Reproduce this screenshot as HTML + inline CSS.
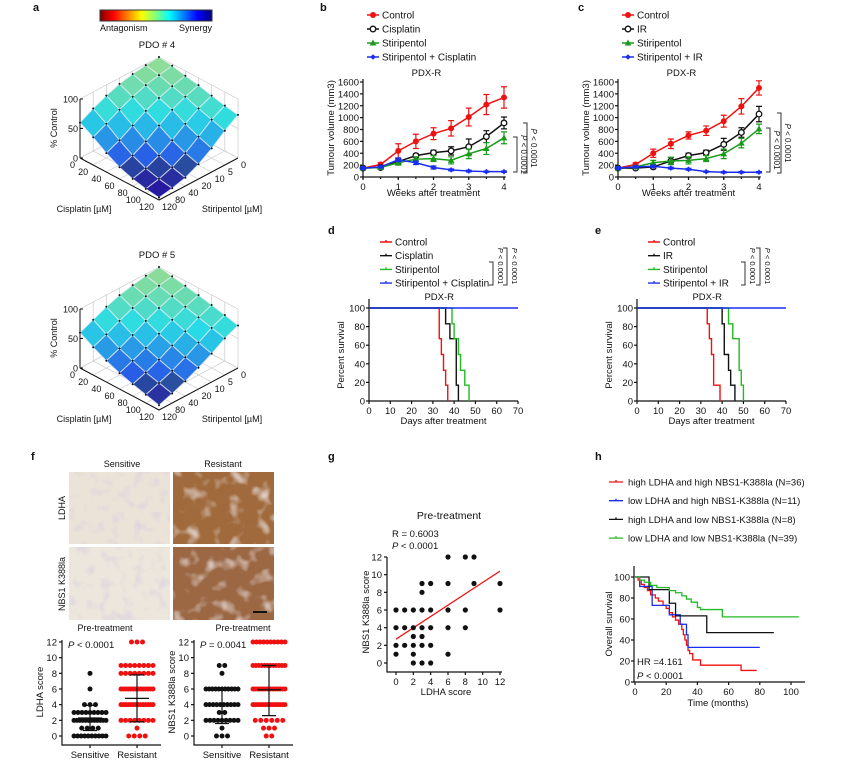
<!DOCTYPE html>
<html><head><meta charset="utf-8">
<style>
html,body{margin:0;padding:0;background:#fff;}
svg{display:block;font-family:"Liberation Sans",Arial,sans-serif;}
text{fill:#111;}
</style></head>
<body>
<svg id="fig" width="865" height="763" viewBox="0 0 865 763" xmlns="http://www.w3.org/2000/svg">
<defs>
<linearGradient id="cbar" x1="0" x2="1" y1="0" y2="0">
<stop offset="0" stop-color="#800000"/><stop offset="0.12" stop-color="#ff0000"/><stop offset="0.37" stop-color="#ffff00"/>
<stop offset="0.5" stop-color="#80ff80"/><stop offset="0.62" stop-color="#00ffff"/><stop offset="0.87" stop-color="#0000ff"/><stop offset="1" stop-color="#000080"/>
</linearGradient>
<filter id="noiseS" x="0" y="0" width="100%" height="100%"><feTurbulence type="fractalNoise" baseFrequency="0.09" numOctaves="2" seed="3"/><feColorMatrix type="matrix" values="0 0 0 0 0.6  0 0 0 0 0.55  0 0 0 0 0.75  1.2 0 0 0 -0.6"/></filter>
<filter id="noiseR" x="0" y="0" width="100%" height="100%"><feTurbulence type="fractalNoise" baseFrequency="0.07" numOctaves="2" seed="7"/><feColorMatrix type="matrix" values="0 0 0 0 0.9  0 0 0 0 0.88  0 0 0 0 0.92  -2.2 0 0 0 1.05"/></filter>
</defs>

<text x="33" y="11" font-size="11" font-weight="bold">a</text>
<text x="320" y="11" font-size="11" font-weight="bold">b</text>
<text x="578" y="11" font-size="11" font-weight="bold">c</text>
<text x="328" y="234" font-size="11" font-weight="bold">d</text>
<text x="595" y="234" font-size="11" font-weight="bold">e</text>
<text x="31" y="460" font-size="11" font-weight="bold">f</text>
<text x="328" y="460" font-size="11" font-weight="bold">g</text>
<text x="595" y="460" font-size="11" font-weight="bold">h</text>

<rect x="100" y="10" width="112" height="11" fill="url(#cbar)" stroke="#333" stroke-width="1"/>
<text x="100" y="31" font-size="9">Antagonism</text>
<text x="212" y="31" font-size="9" text-anchor="end">Synergy</text>

<g>
<rect x="69" y="472" width="101" height="72" fill="#ece3d8"/>
<rect x="69" y="472" width="101" height="72" filter="url(#noiseS)"/>
<rect x="173" y="472" width="101" height="72" fill="#a06a3c"/>
<rect x="173" y="472" width="101" height="72" filter="url(#noiseR)"/>
<rect x="69" y="547" width="101" height="73" fill="#ede6dc"/>
<rect x="69" y="547" width="101" height="73" filter="url(#noiseS)"/>
<rect x="173" y="547" width="101" height="73" fill="#9c6844"/>
<rect x="173" y="547" width="101" height="73" filter="url(#noiseR)"/>
<line x1="253" y1="612" x2="267" y2="612" stroke="#111" stroke-width="2"/>
</g>
<text x="122" y="467" font-size="9" text-anchor="middle">Sensitive</text>
<text x="223" y="467" font-size="9" text-anchor="middle">Resistant</text>
<text transform="translate(65,508) rotate(-90)" font-size="9" text-anchor="middle">LDHA</text>
<text transform="translate(65,584) rotate(-90)" font-size="9" text-anchor="middle">NBS1 K388la</text>
<text x="105" y="631" font-size="9" text-anchor="middle">Pre-treatment</text>
<text x="243" y="631" font-size="9" text-anchor="middle">Pre-treatment</text>
</svg>

<script>
const NS='http://www.w3.org/2000/svg';
const svg=document.getElementById('fig');
function mk(tag,attrs,parent){const e=document.createElementNS(NS,tag);for(const k in attrs)e.setAttribute(k,attrs[k]);(parent||svg).appendChild(e);return e;}
function nm(el,n){


return el;}
function txt(x,y,s,size,anchor,parent,extra){const t=mk('text',Object.assign({x:x,y:y,'font-size':size,'text-anchor':anchor||'start'},extra||{}),parent);t.textContent=s;return t;}
function rtxt(x,y,s,size,rot,parent){const t=mk('text',{transform:'translate('+x+','+y+') rotate('+rot+')','font-size':size,'text-anchor':'middle'},parent);t.textContent=s;return t;}

/* ================= PANEL A DATA ================= */
const cisTicks=['0','20','40','60','80','100','120'];
const stiTicks=['0','5','10','20','40','80','120'];
const zTicks=[0,50,100];
const pdo4=[
[100,98,95,90,82,72,60],
[97,93,88,80,70,58,47],
[92,86,78,68,55,42,32],
[88,80,70,55,40,28,20],
[82,72,58,42,28,18,12],
[77,65,48,32,20,12,7],
[73,58,40,25,14,8,4]];
const pdo5=[
[100,97,93,88,80,70,60],
[96,92,86,78,68,57,47],
[92,86,78,68,56,45,36],
[88,80,70,58,46,36,27],
[83,74,62,50,38,28,20],
[78,68,55,42,31,22,14],
[72,62,48,36,25,16,8]];

function jet(t){const r=Math.min(1,Math.max(0,1.5-Math.abs(4*t-3))),g=Math.min(1,Math.max(0,1.5-Math.abs(4*t-2))),b=Math.min(1,Math.max(0,1.5-Math.abs(4*t-1)));
  const mix=v=>Math.round(v*215+30);return 'rgb('+Math.round(r*190+40)+','+Math.round(g*200+20)+','+Math.round(b*150+(t<0.2?10:80))+')';}

function surface(vals,dy,title,key){
  const g=nm(mk('g',{}),'surface-plot-'+key);
  const P=(u,v,z)=>[159+79*(u-v),116+dy+42*(u+v)-z*0.59];
  nm(txt(157,48+dy,title,9.5,'middle',g),'surface-title-'+key);
  const gg=nm(mk('g',{stroke:'#c8c8c8','stroke-width':0.7,fill:'none'},g),'surface-gridlines-'+key);
  for(let k=0;k<=6;k++){
    let a=P(0,k/6,0),b=P(0,k/6,100);mk('line',{x1:a[0],y1:a[1],x2:b[0],y2:b[1]},gg);
    a=P(k/6,0,0);b=P(k/6,0,100);mk('line',{x1:a[0],y1:a[1],x2:b[0],y2:b[1]},gg);
    a=P(0,k/6,0);b=P(1,k/6,0);mk('line',{x1:a[0],y1:a[1],x2:b[0],y2:b[1]},gg);
    a=P(k/6,0,0);b=P(k/6,1,0);mk('line',{x1:a[0],y1:a[1],x2:b[0],y2:b[1]},gg);
  }
  zTicks.forEach(z=>{let a=P(0,1,z),b=P(0,0,z),c=P(1,0,z);mk('polyline',{points:a+' '+b+' '+c},gg);});
  const ax=nm(mk('g',{stroke:'#111','stroke-width':1,fill:'none'},g),'surface-axes-'+key);
  let L=P(0,1,0),F=P(1,1,0),R=P(1,0,0);
  mk('polyline',{points:L+' '+F+' '+R},ax);
  let zt=P(0,1,100);mk('line',{x1:L[0],y1:L[1],x2:zt[0],y2:zt[1]},ax);
  zTicks.forEach(z=>{const p=P(0,1,z);mk('line',{x1:p[0],y1:p[1],x2:p[0]+3,y2:p[1]},ax);nm(txt(p[0]-2,p[1]+3.5,String(z),9,'end',g),'z-tick-label');});
  cisTicks.forEach((s,i)=>{const p=P(i/6,1,0);nm(txt(p[0]-5,p[1]+10,s,9,'end',g),'cisplatin-tick-label');});
  stiTicks.forEach((s,j)=>{const p=P(1,j/6,0);nm(txt(p[0]+3,p[1]+10,s,9,'start',g),'stiripentol-tick-label');});
  nm(txt(84,212+dy,'Cisplatin [µM]',9,'middle',g),'x-axis-title-cisplatin');
  nm(txt(232,212+dy,'Stiripentol [µM]',9,'middle',g),'y-axis-title-stiripentol');
  nm(rtxt(57,128+dy,'% Control',9,-90,g),'z-axis-title');
  const quads=[];
  for(let i=0;i<6;i++)for(let j=0;j<6;j++)quads.push([i,j]);
  quads.sort((a,b)=>(a[0]+a[1])-(b[0]+b[1]));
  const sg=nm(mk('g',{},g),'surface-mesh-'+key);
  quads.forEach(([i,j])=>{
    const c=[[i,j],[i+1,j],[i+1,j+1],[i,j+1]];
    const pts=c.map(([a,b])=>P(a/6,b/6,vals[a][b]).join(',')).join(' ');
    const z=(vals[i][j]+vals[i+1][j]+vals[i+1][j+1]+vals[i][j+1])/4;
    const q=mk('polygon',{points:pts,fill:jet(0.1+z/100*0.42),stroke:'#e8eef8','stroke-width':1,'stroke-opacity':0.75},sg);
    nm(q,'surface-cell');
  });
  for(let i=0;i<=6;i++)for(let j=0;j<=6;j++){const p=P(i/6,j/6,vals[i][j]);nm(mk('circle',{cx:p[0],cy:p[1],r:1,fill:'#111'},sg),'surface-point');}
}
surface(pdo4,0,'PDO # 4','pdo4');
surface(pdo5,210,'PDO # 5','pdo5');

/* ================= PANELS B,C DATA ================= */
const weeks=[0,0.5,1,1.5,2,2.5,3,3.5,4];
const volTicks=[0,200,400,600,800,1000,1200,1400,1600];
const weekTicks=[0,1,2,3,4];
const bControl=[150,210,440,600,730,820,1010,1220,1340];
const bControlErr=[30,30,120,120,100,130,150,170,180];
const bCis=[150,160,260,360,410,440,510,680,910];
const bCisErr=[20,20,40,30,40,70,130,100,100];
const bSti=[150,160,240,300,310,280,390,480,660];
const bStiErr=[20,20,40,40,50,60,80,100,100];
const bCombo=[150,170,290,240,160,120,100,90,90];
const bComboErr=[20,15,30,30,25,15,15,10,10];
const cControl=[150,210,400,560,700,780,940,1190,1500];
const cControlErr=[20,30,70,80,60,80,100,130,120];
const cIR=[150,150,170,270,360,410,550,750,1060];
const cIRErr=[20,20,30,60,40,40,100,80,130];
const cSti=[150,170,240,270,280,310,390,570,810];
const cStiErr=[20,20,40,60,60,50,80,80,80];
const cCombo=[150,170,180,150,130,90,80,80,80];
const cComboErr=[20,15,20,15,15,10,10,10,10];

function marker(type,x,y,col,parent){
  let e;
  if(type==='fill')e=mk('circle',{cx:x,cy:y,r:3,fill:col},parent);
  else if(type==='open')e=mk('circle',{cx:x,cy:y,r:2.8,fill:'#fff',stroke:col,'stroke-width':1.3},parent);
  else if(type==='tri')e=mk('polygon',{points:(x)+','+(y-3.5)+' '+(x+3.3)+','+(y+2.5)+' '+(x-3.3)+','+(y+2.5),fill:col},parent);
  else e=mk('polygon',{points:(x)+','+(y-2.8)+' '+(x+2.8)+','+y+' '+x+','+(y+2.8)+' '+(x-2.8)+','+y,fill:col},parent);
  return e;
}
function growth(key,ox,series,labels,brackets){
  const g=nm(mk('g',{}),'growth-chart-'+key);
  const X=w=>ox+w*141/4, Y=v=>177-v*95/1600;
  const ax=nm(mk('g',{stroke:'#111','stroke-width':1.2,fill:'none'},g),'axes-'+key);
  mk('polyline',{points:X(0)+','+Y(1650)+' '+X(0)+','+Y(0)+' '+X(4.05)+','+Y(0)},ax);
  volTicks.forEach(v=>{mk('line',{x1:X(0)-3,y1:Y(v),x2:X(0),y2:Y(v)},ax);nm(txt(X(0)-4,Y(v)+3.5,String(v),9.5,'end',g),'y-tick-label');});
  weekTicks.forEach(w=>{mk('line',{x1:X(w),y1:Y(0),x2:X(w),y2:Y(0)+3},ax);nm(txt(X(w),Y(0)+13,String(w),9.5,'middle',g),'x-tick-label');});
  weeks.forEach(w=>{mk('line',{x1:X(w),y1:Y(0),x2:X(w),y2:Y(0)+2},ax);});
  nm(txt(X(2),196,'Weeks after treatment',9.5,'middle',g),'x-axis-title');
  nm(rtxt(ox-29,128,'Tumour volume (mm3)',9.5,-90,g),'y-axis-title');
  nm(txt(X(1.8),76,'PDX-R',9.5,'middle',g),'chart-title');
  series.forEach((s,si)=>{
    const sg=nm(mk('g',{},g),'series-'+s.name);
    const pts=weeks.map((w,i)=>X(w)+','+Y(s.v[i])).join(' ');
    nm(mk('polyline',{points:pts,fill:'none',stroke:s.col,'stroke-width':1.5},sg),'line-'+s.name);
    weeks.forEach((w,i)=>{
      const eg=mk('path',{d:'M'+X(w)+' '+Y(s.v[i]-s.e[i])+'V'+Y(s.v[i]+s.e[i])+'M'+(X(w)-3)+' '+Y(s.v[i]+s.e[i])+'h6M'+(X(w)-3)+' '+Y(s.v[i]-s.e[i])+'h6',stroke:s.col,'stroke-width':1.2,fill:'none'},sg);
      nm(eg,'error-bar');
      nm(marker(s.m,X(w),Y(s.v[i]),s.col,sg),'point');
    });
    const ly=15+si*14, lx=ox+10;
    const lg=nm(mk('g',{},g),'legend-entry-'+s.name);
    mk('line',{x1:lx-6,y1:ly,x2:lx+6,y2:ly,stroke:s.col,'stroke-width':1.5},lg);
    marker(s.m,lx,ly,s.col,lg);
    txt(lx+9,ly+3.5,labels[si],10,'start',lg);
  });
  brackets.forEach(b=>{
    nm(mk('path',{d:'M'+(b.x-4)+' '+b.y1+'H'+b.x+'V'+b.y2+'H'+(b.x-4),stroke:'#333','stroke-width':1,fill:'none'},g),'p-value-bracket');
    const t=nm(rtxt(b.x+4,(b.y1+b.y2)/2,'',8,90,g),'p-value-label');
    t.innerHTML='<tspan font-style="italic">P</tspan> &lt; 0.0001';
  });
}
growth('b',363,[
 {name:'control',v:bControl,e:bControlErr,col:'#f01010',m:'fill'},
 {name:'cisplatin',v:bCis,e:bCisErr,col:'#111',m:'open'},
 {name:'stiripentol',v:bSti,e:bStiErr,col:'#1a9a1a',m:'tri'},
 {name:'combo',v:bCombo,e:bComboErr,col:'#1a2ef0',m:'dia'}],
 ['Control','Cisplatin','Stiripentol','Stiripentol + Cisplatin'],
 [{x:517,y1:137,y2:172},{x:527,y1:123,y2:173}]);
growth('c',618,[
 {name:'control',v:cControl,e:cControlErr,col:'#f01010',m:'fill'},
 {name:'ir',v:cIR,e:cIRErr,col:'#111',m:'open'},
 {name:'stiripentol',v:cSti,e:cStiErr,col:'#1a9a1a',m:'tri'},
 {name:'combo',v:cCombo,e:cComboErr,col:'#1a2ef0',m:'dia'}],
 ['Control','IR','Stiripentol','Stiripentol + IR'],
 [{x:770,y1:128,y2:172},{x:781,y1:113,y2:173}]);

/* ================= PANELS D,E DATA ================= */
const dayTicks=[0,10,20,30,40,50,60,70];
const pctTicks=[0,20,40,60,80,100];
const dControl=[[0,100],[33,67],[34,50],[35,33],[36,17],[37,0]];
const dCis=[[0,100],[36,83],[38,67],[41,17],[42,0]];
const dSti=[[0,100],[39,83],[40,67],[42,50],[43,33],[45,17],[47,0]];
const dCombo=[[0,100],[70,100]];
const eControl=[[0,100],[33,83],[34,67],[35,50],[36,17],[39,0]];
const eIR=[[0,100],[40,83],[41,50],[43,33],[44,17],[46,0]];
const eSti=[[0,100],[43,83],[45,67],[48,33],[49,17],[50,0]];
const eCombo=[[0,100],[70,100]];
function stepPath(d,X,Y){let s='M'+X(d[0][0])+' '+Y(d[0][1]);for(let i=1;i<d.length;i++){s+='H'+X(d[i][0])+'V'+Y(d[i][1]);}return s;}
function survival(key,ox,series,labels,brackets){
  const g=nm(mk('g',{}),'survival-chart-'+key);
  const X=t=>ox+t*149/70, Y=p=>401-p*0.93;
  const ax=nm(mk('g',{stroke:'#111','stroke-width':1.2,fill:'none'},g),'axes-'+key);
  mk('polyline',{points:X(0)+','+299+' '+X(0)+','+Y(0)+' '+X(70)+','+Y(0)},ax);
  pctTicks.forEach(p=>{mk('line',{x1:X(0)-3,y1:Y(p),x2:X(0),y2:Y(p)},ax);nm(txt(X(0)-4,Y(p)+3.5,String(p),9.5,'end',g),'y-tick-label');});
  dayTicks.forEach(t=>{mk('line',{x1:X(t),y1:Y(0),x2:X(t),y2:Y(0)+3},ax);nm(txt(X(t),Y(0)+13,String(t),9.5,'middle',g),'x-tick-label');});
  nm(txt(X(35),424,'Days after treatment',9.5,'middle',g),'x-axis-title');
  nm(rtxt(ox-25,355,'Percent survival',9.5,-90,g),'y-axis-title');
  nm(txt(X(33),300,'PDX-R',9.5,'middle',g),'chart-title');
  series.forEach((s,si)=>{
    nm(mk('path',{d:stepPath(s.d,X,Y),stroke:s.col,'stroke-width':1.4,fill:'none'},g),'survival-curve-'+s.name);
    const ly=242+si*13.7, lx=ox+11;
    const lg=nm(mk('g',{},g),'legend-entry-'+s.name);
    mk('path',{d:'M'+lx+' '+ly+'h12M'+(lx+6)+' '+(ly-2)+'v2',stroke:s.col,'stroke-width':1.4},lg);
    txt(lx+15,ly+3.5,labels[si],10,'start',lg);
  });
  brackets.forEach(b=>{
    nm(mk('path',{d:'M'+(b.x-4)+' '+b.y1+'H'+b.x+'V'+b.y2+'H'+(b.x-4),stroke:'#333','stroke-width':1,fill:'none'},g),'p-value-bracket');
    const t=nm(rtxt(b.x+5,266,'',7.5,90,g),'p-value-label');
    t.innerHTML='<tspan font-style="italic">P</tspan> &lt; 0.0001';
  });
}
survival('d',369,[
 {name:'control',d:dControl,col:'#f01010'},{name:'cisplatin',d:dCis,col:'#111'},
 {name:'stiripentol',d:dSti,col:'#22bb22'},{name:'combo',d:dCombo,col:'#1a2ef0'}],
 ['Control','Cisplatin','Stiripentol','Stiripentol + Cisplatin'],
 [{x:493,y1:262,y2:285},{x:507,y1:248,y2:285}]);
survival('e',637,[
 {name:'control',d:eControl,col:'#f01010'},{name:'ir',d:eIR,col:'#111'},
 {name:'stiripentol',d:eSti,col:'#22bb22'},{name:'combo',d:eCombo,col:'#1a2ef0'}],
 ['Control','IR','Stiripentol','Stiripentol + IR'],
 [{x:745,y1:262,y2:285},{x:760,y1:248,y2:285}]);

/* ================= PANEL F DOT PLOTS ================= */
const scoreTicks=[0,2,4,6,8,10,12];
const ldhaLevels=[0,1,2,3,4,5,6,8,9,12];
const ldhaSensCounts=[10,4,12,9,3,0,1,1,0,0];
const ldhaResCounts=[4,1,8,0,14,0,14,8,8,3];
const ldhaSensStats=[2.3,0.7,3.9];
const ldhaResStats=[4.8,1.8,7.8];
const nbsLevels=[0,1,2,3,4,6,8,9,12];
const nbsSensCounts=[3,1,9,2,10,11,1,2,0];
const nbsResCounts=[2,3,6,0,14,14,0,12,10];
const nbsSensStats=[4.0,1.6,6.1];
const nbsResStats=[5.9,2.6,9.0];
function dotplot(key,ox,levels,sc,rc,ss,rs,ylabel,ptext){
  const g=nm(mk('g',{}),'dotplot-'+key);
  const Y=v=>736-v*94/12, cx=[ox+28,ox+75];
  const ax=nm(mk('g',{stroke:'#111','stroke-width':1.2,fill:'none'},g),'axes-'+key);
  mk('polyline',{points:ox+',640 '+ox+',745 '+(ox+99)+',745'},ax);
  scoreTicks.forEach(v=>{mk('line',{x1:ox-3,y1:Y(v),x2:ox,y2:Y(v)},ax);nm(txt(ox-5,Y(v)+3.5,String(v),9.5,'end',g),'y-tick-label');});
  cx.forEach(x=>mk('line',{x1:x,y1:745,x2:x,y2:748},ax));
  nm(txt(cx[0],758,'Sensitive',9.5,'middle',g),'x-tick-label-sensitive');
  nm(txt(cx[1],758,'Resistant',9.5,'middle',g),'x-tick-label-resistant');
  nm(rtxt(ox-19,692,ylabel,9.5,-90,g),'y-axis-title');
  const pt=nm(txt(ox+6,648,'',9.5,'start',g),'p-value-label');pt.innerHTML=ptext;
  [[sc,'#111',ss,'sensitive'],[rc,'#f01010',rs,'resistant']].forEach(([cnt,col,st,nmz],k)=>{
    const dg=nm(mk('g',{fill:col},g),'dots-'+nmz);
    levels.forEach((lv,i)=>{const n=cnt[i];if(!n)return;const sp=n>1?Math.min(5.5,32/(n-1)):0;
      for(let q=0;q<n;q++){nm(mk('circle',{cx:cx[k]+(q-(n-1)/2)*sp,cy:Y(lv),r:2.5},dg),'dot');}});
    const eb=mk('path',{d:'M'+(cx[k]-12)+' '+Y(st[0])+'h24M'+cx[k]+' '+Y(st[1])+'V'+Y(st[2])+'M'+(cx[k]-7)+' '+Y(st[1])+'h14M'+(cx[k]-7)+' '+Y(st[2])+'h14',stroke:'#111','stroke-width':1.2,fill:'none'},g);
    nm(eb,'mean-sd-bar-'+nmz);
  });
}
dotplot('ldha',62,ldhaLevels,ldhaSensCounts,ldhaResCounts,ldhaSensStats,ldhaResStats,'LDHA score','<tspan font-style="italic">P</tspan> &lt; 0.0001');
dotplot('nbs1',194,nbsLevels,nbsSensCounts,nbsResCounts,nbsSensStats,nbsResStats,'NBS1 K388la score','<tspan font-style="italic">P</tspan> = 0.0041');

/* ================= PANEL G SCATTER ================= */
const gLdha=[0,1,2,3,4,0,1,2,3,4,0,1,2,3,4,0,2,2,3,2,3,4,3,4,3,6,8,9,6,9,12,6,8,12,6,8,6];
const gNbs= [6,6,6,6,6,4,4,4,4,4,2,2,2,2,2,1,1,3,3,0,0,0,9,9,8,12,12,12,9,9,9,6,6,6,4,4,1];
const gFit=[[0,2.7],[12,10.4]];
const gTicks=[0,2,4,6,8,10,12];
(function(){
  const g=nm(mk('g',{}),'scatter-chart');
  const X=v=>396+v*104/12, Y=v=>663-v*106/12;
  const ax=nm(mk('g',{stroke:'#111','stroke-width':1.2,fill:'none'},g),'axes-g');
  mk('polyline',{points:'387,557 387,672 502,672'},ax);
  gTicks.forEach(v=>{mk('line',{x1:384,y1:Y(v),x2:387,y2:Y(v)},ax);nm(txt(382,Y(v)+3.5,String(v),9.5,'end',g),'y-tick-label');
    mk('line',{x1:X(v),y1:672,x2:X(v),y2:675},ax);nm(txt(X(v),685,String(v),9.5,'middle',g),'x-tick-label');});
  nm(txt(446,695,'LDHA score',9.5,'middle',g),'x-axis-title');
  nm(rtxt(369,612,'NBS1 K388la score',9.5,-90,g),'y-axis-title');
  nm(txt(449,519,'Pre-treatment',10.5,'middle',g),'chart-title');
  nm(txt(392,537,'R = 0.6003',9.5,'start',g),'r-value-label');
  const p=nm(txt(392,549,'',9.5,'start',g),'p-value-label');p.innerHTML='<tspan font-style="italic">P</tspan> &lt; 0.0001';
  nm(mk('line',{x1:X(gFit[0][0]),y1:Y(gFit[0][1]),x2:X(gFit[1][0]),y2:Y(gFit[1][1]),stroke:'#f01010','stroke-width':1.3},g),'regression-line');
  gLdha.forEach((v,i)=>{nm(mk('circle',{cx:X(v),cy:Y(gNbs[i]),r:2.6,fill:'#111'},g),'scatter-point');});
})();

/* ================= PANEL H KM ================= */
const hTimeTicks=[0,20,40,60,80,100];
const hPctTicks=[0,20,40,60,80,100];
const hRed=[[0,100],[2,97],[4,93],[6,90],[8,87],[10,83],[13,80],[15,77],[18,73],[20,70],[22,66],[24,62],[26,59],[28,55],[30,50],[31,45],[32,40],[33,35],[34,30],[35,27],[37,21],[42,16],[68,11],[78,11]];
const hBlue=[[0,100],[3,91],[11,73],[22,64],[29,55],[33,45],[34,33],[80,33]];
const hBlack=[[0,100],[9,88],[22,75],[26,63],[46,47],[89,47]];
const hGreen=[[0,100],[3,97],[6,95],[10,92],[14,90],[22,87],[26,85],[30,82],[33,79],[36,76],[40,71],[42,69],[56,62],[105,62]];
const hLabels=['high LDHA and high NBS1-K388la (N=36)','low LDHA and high NBS1-K388la (N=11)','high LDHA and low NBS1-K388la (N=8)','low LDHA and low NBS1-K388la (N=39)'];
(function(){
  const g=nm(mk('g',{}),'km-chart');
  const X=t=>635+t*1.56, Y=p=>682-p*1.05;
  const ax=nm(mk('g',{stroke:'#111','stroke-width':1.2,fill:'none'},g),'axes-h');
  mk('polyline',{points:'634,566 634,682 805,682'},ax);
  hPctTicks.forEach(p=>{mk('line',{x1:631,y1:Y(p),x2:634,y2:Y(p)},ax);nm(txt(630,Y(p)+3.5,String(p),9.5,'end',g),'y-tick-label');});
  hTimeTicks.forEach(t=>{mk('line',{x1:X(t),y1:682,x2:X(t),y2:685},ax);nm(txt(X(t),695,String(t),9.5,'middle',g),'x-tick-label');});
  nm(txt(718,706,'Time (months)',9.5,'middle',g),'x-axis-title');
  nm(rtxt(612,624,'Overall survival',9.5,-90,g),'y-axis-title');
  nm(txt(637,665,'HR =4.161',9.5,'start',g),'hr-label');
  const p=nm(txt(637,679,'',9.5,'start',g),'p-value-label');p.innerHTML='<tspan font-style="italic">P</tspan> &lt; 0.0001';
  [[hRed,'#f01010','high-high'],[hBlue,'#1a2ef0','low-high'],[hBlack,'#111','high-low'],[hGreen,'#22bb22','low-low']].forEach(([d,col,n],si)=>{
    nm(mk('path',{d:stepPath(d,X,Y),stroke:col,'stroke-width':1.3,fill:'none'},g),'km-curve-'+n);
    const ly=482+si*18.7;
    const lg=nm(mk('g',{},g),'legend-entry-'+n);
    mk('path',{d:'M609 '+ly+'h14M616 '+(ly-2)+'v2',stroke:col,'stroke-width':1.3},lg);
    txt(628,ly+3.5,hLabels[si],9.5,'start',lg);
  });
})();
</script>
</body></html>
